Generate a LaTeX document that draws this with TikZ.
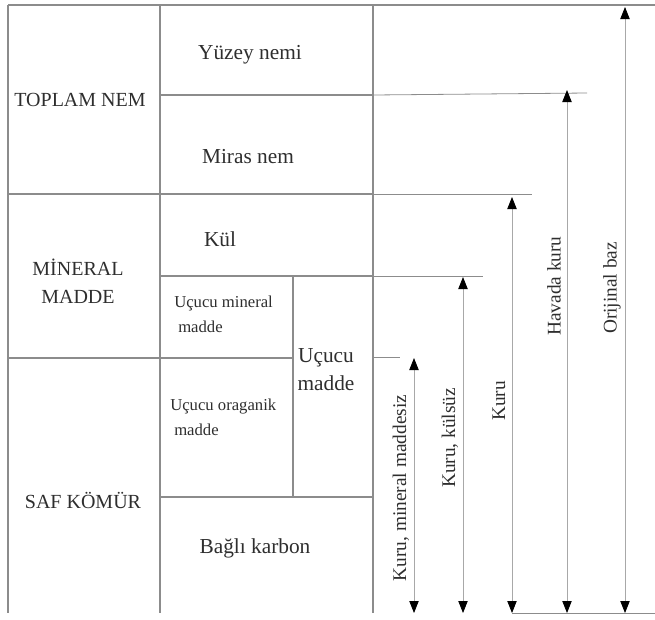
\documentclass[tikz,border=0pt]{standalone}
\usepackage{fontspec}
\setmainfont{Liberation Serif}
\usetikzlibrary{arrows.meta,positioning}
\definecolor{gridc}{HTML}{8C8C8C}
\definecolor{arrc}{HTML}{A8A8A8}
\definecolor{ink}{HTML}{2E2E2E}

\begin{document}
\begin{tikzpicture}[x=0.75pt,y=-0.75pt,
    rulebox/.style={draw=gridc,line width=0.8pt},
    extline/.style={draw=gridc,line width=0.6pt},
    dimarrow/.style={draw=arrc,line width=0.6pt,
      {Triangle[length=9pt,width=7pt,color=black]}-{Triangle[length=9pt,width=7pt,color=black]}},
    bigtxt/.style={font=\fontsize{16}{21}\selectfont,text=ink,inner sep=0pt,align=center},
    sidetxt/.style={font=\fontsize{15}{21}\selectfont,text=ink,inner sep=0pt,align=center},
    smalltxt/.style={font=\fontsize{12.5}{19}\selectfont,text=ink,inner sep=0pt,align=left,anchor=west},
    dimtxt/.style={font=\fontsize{14.5}{16}\selectfont,text=ink,inner sep=0pt,rotate=90}]
  \useasboundingbox (0,0) rectangle (655,619);

  % table frame
  \draw[rulebox] (8,5) -- (655,5);
  \draw[rulebox] (8,5) -- (8,613);
  \draw[rulebox] (160,5) -- (160,613);
  \draw[rulebox] (373,5) -- (373,613);
  \draw[rulebox] (293,276) -- (293,497);
  \draw[rulebox] (160,95) -- (373,95);
  \draw[rulebox] (8,194) -- (373,194);
  \draw[rulebox] (160,276) -- (373,276);
  \draw[rulebox] (8,358) -- (293,358);
  \draw[rulebox] (160,497) -- (373,497);

  % level lines to the arrows
  \draw[extline] (373,95) -- (587,93);
  \draw[extline] (373,194) -- (532,194);
  \draw[extline] (373,276) -- (483,276);
  \draw[extline] (373,357) -- (400,357);
  \draw[extline] (512,613) -- (655,613);

  % cell texts
  \node[sidetxt] (toplam) at (80,100) {TOPLAM NEM};
  \node[sidetxt] (mineral) at (78,281) {MİNERAL\\MADDE};
  \node[sidetxt] (saf) at (83,500) {SAF KÖMÜR};
  \node[bigtxt] (yuzey) at (250,55) {Yüzey nemi};
  \node[bigtxt] (miras) at (248,157) {Miras nem};
  \node[bigtxt] (kul) at (220,239) {Kül};
  \node[smalltxt] (ucmin) at (174,314) {Uçucu mineral\\\hspace{3pt}madde};
  \node[bigtxt] (ucucu) at (326,370) {Uçucu\\madde};
  \node[smalltxt] (ucorg) at (170,417) {Uçucu oraganik\\\hspace{3pt}madde};
  \node[bigtxt] (karbon) at (255,548) {Bağlı karbon};

  % basis arrows
  \foreach \lab/\xa/\ytop/\ylab [count=\i] in {
      {Kuru, mineral maddesiz}/414/358/488,
      {Kuru, külsüz}/463/277/438,
      {Kuru}/512/197/401,
      {Havada kuru}/567/90/286,
      {Orijinal baz}/625/7/288} {
    \coordinate (top\i) at (\xa,\ytop);
    \coordinate (bot\i) at (\xa,613);
    \draw[dimarrow] (bot\i) -- (top\i);
    \node[dimtxt] (lab\i) at (\xa-13,\ylab) {\lab};
  }
\end{tikzpicture}
\end{document}
